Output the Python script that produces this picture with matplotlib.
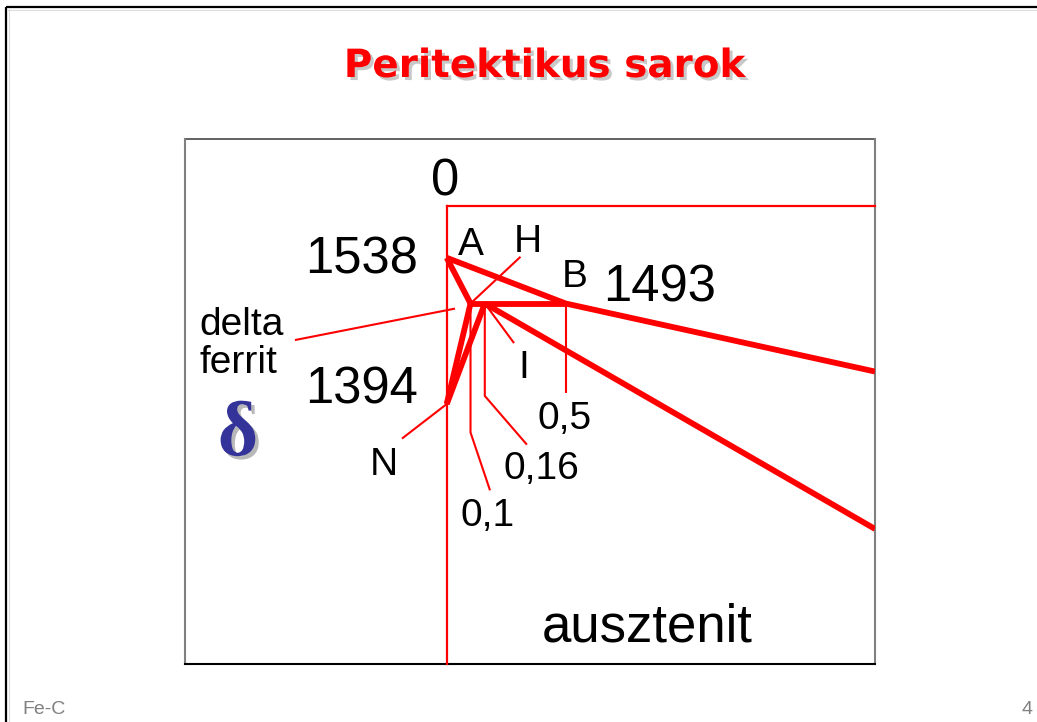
import matplotlib
matplotlib.use("Agg")
import matplotlib.pyplot as plt
import matplotlib.patheffects as pe

# --- Fe-C peritectic corner: points as (wt% C, temperature °C) ---
point_A = (0.0, 1538)
point_H = (0.10, 1493)
point_J = (0.16, 1493)
point_B = (0.50, 1493)
point_N = (0.0, 1394)
liquidus_exit = (1.80, 1426)   # where B-C leaves the frame
solidus_exit = (1.80, 1271)    # where J-E leaves the frame
frame_top = 1589

temperature_labels = ["1538", "1493", "1394"]
composition_labels = ["0,1", "0,16", "0,5"]
point_labels = ["A", "H", "B", "I", "N"]

RED = "#ff0000"
W, H = 1037, 722
fig = plt.figure(figsize=(W / 100, H / 100), dpi=100)

# overlay in pixel units for slide decoration and text
ov = fig.add_axes([0, 0, 1, 1])
ov.set_xlim(0, W)
ov.set_ylim(H, 0)
ov.axis("off")

# diagram axes
bx0, bx1, by0, by1 = 185, 875, 139, 664
ax = fig.add_axes([bx0 / W, 1 - by1 / H, (bx1 - bx0) / W, (by1 - by0) / H])
ax.set_xlim(-1.1, 1.8)
ax.set_ylim(1138, 1655)
ax.axis("off")
ax.patch.set_alpha(0)

# slide border
ov.plot([6, W], [7, 7], color="black", lw=1.6, solid_capstyle="butt")
ov.plot([6, 6], [7, H], color="black", lw=1.6, solid_capstyle="butt")
ov.plot([8, W], [9.5, 9.5], color="#dddddd", lw=0.8)
ov.plot([8.5, 8.5], [9, H], color="#dddddd", lw=0.8)

# diagram box
ov.plot([bx0, bx1], [by0, by0], color="#555555", lw=1.3)
ov.plot([bx0, bx0], [by0, by1], color="#808080", lw=1.5)
ov.plot([bx1, bx1], [by0, by1], color="#808080", lw=1.5)
ov.plot([bx0, bx1], [by1, by1], color="black", lw=1.5)

# red frame (0 % C axis and top edge)
ax.plot([0, 0], [frame_top, 1138], color=RED, lw=1.6, clip_on=False)
ax.plot([0, 1.8], [frame_top, frame_top], color=RED, lw=1.6, clip_on=False)

# thin leader lines
thin = dict(color=RED, lw=1.5, solid_capstyle="butt")
ax.plot([point_H[0], 0.31], [point_H[1], 1539], **thin)              # H
ax.plot([-0.638, 0.035], [1457, 1488], **thin)                       # delta ferrit
ax.plot([-0.188, point_N[0]], [1360, point_N[1]], **thin)            # N
ax.plot([point_J[0], 0.283], [point_J[1], 1454], **thin)             # I
ax.plot([point_B[0], point_B[0]], [point_B[1], 1405], **thin)        # 0,5
ax.plot([point_J[0], point_J[0], 0.337], [point_J[1], 1402, 1354], **thin)  # 0,16
ax.plot([point_H[0], point_H[0], 0.182], [point_H[1], 1366, 1309], **thin)  # 0,1

# phase boundaries
thick = dict(color=RED, lw=4.2, solid_joinstyle="miter", solid_capstyle="butt")
ax.plot([point_A[0], point_B[0], liquidus_exit[0]],
        [point_A[1], point_B[1], liquidus_exit[1]], **thick)
ax.plot([point_A[0], point_H[0]], [point_A[1], point_H[1]], **thick)
ax.plot([point_H[0], point_B[0]], [point_H[1], point_B[1]], **thick)
ax.plot([point_H[0], point_N[0]], [point_H[1], point_N[1]], **thick)
ax.plot([point_J[0], point_N[0]], [point_J[1], point_N[1]], **thick)
ax.plot([point_J[0], solidus_exit[0]], [point_J[1], solidus_exit[1]], **thick)

# text
sans = ["Liberation Sans", "DejaVu Sans"]
big = 36.5
mid = 28

def txt(x, y, s, size, ha="center", **kw):
    ov.text(x, y, s, fontsize=size, ha=ha, va="baseline", family=sans, **kw)

title_fx = [pe.withSimplePatchShadow(offset=(2.2, -2.2), shadow_rgbFace="#c8c8c8", alpha=1)]
ov.text(544, 77, "Peritektikus sarok", fontsize=28, fontweight="bold", color=RED,
        ha="center", va="baseline", family=["DejaVu Sans"], path_effects=title_fx)

txt(445, 195, "0", big)
txt(418, 274, temperature_labels[0], big, ha="right")
txt(603, 302, temperature_labels[1], big, ha="left")
txt(418, 404, temperature_labels[2], big, ha="right")

txt(471, 255, point_labels[0], mid)
txt(528, 252, point_labels[1], mid)
txt(575, 287, point_labels[2], mid)
txt(524, 378, point_labels[3], mid)
txt(384, 475, point_labels[4], mid)

txt(565, 429, composition_labels[2], mid)
txt(541, 479, composition_labels[1], mid)
txt(488, 526, composition_labels[0], mid)

txt(199, 335, "delta", mid, ha="left")
txt(199, 373, "ferrit", mid, ha="left")

delta_fx = [pe.withSimplePatchShadow(offset=(2.5, -2.5), shadow_rgbFace="#b8b8b8", alpha=1)]
ov.text(238, 455, "δ", fontsize=56, fontweight="bold", color="#333399", ha="center",
        va="baseline", family=["Liberation Serif", "DejaVu Serif"], path_effects=delta_fx)

txt(647, 642, "ausztenit", 38)

foot = ["Liberation Sans Narrow", "Liberation Sans"]
ov.text(22, 714, "Fe-C", fontsize=14, color="#808080", ha="left", va="baseline", family=foot)
ov.text(1033, 714, "4", fontsize=14, color="#808080", ha="right", va="baseline", family=foot)

fig.savefig("out.png", dpi=100)
